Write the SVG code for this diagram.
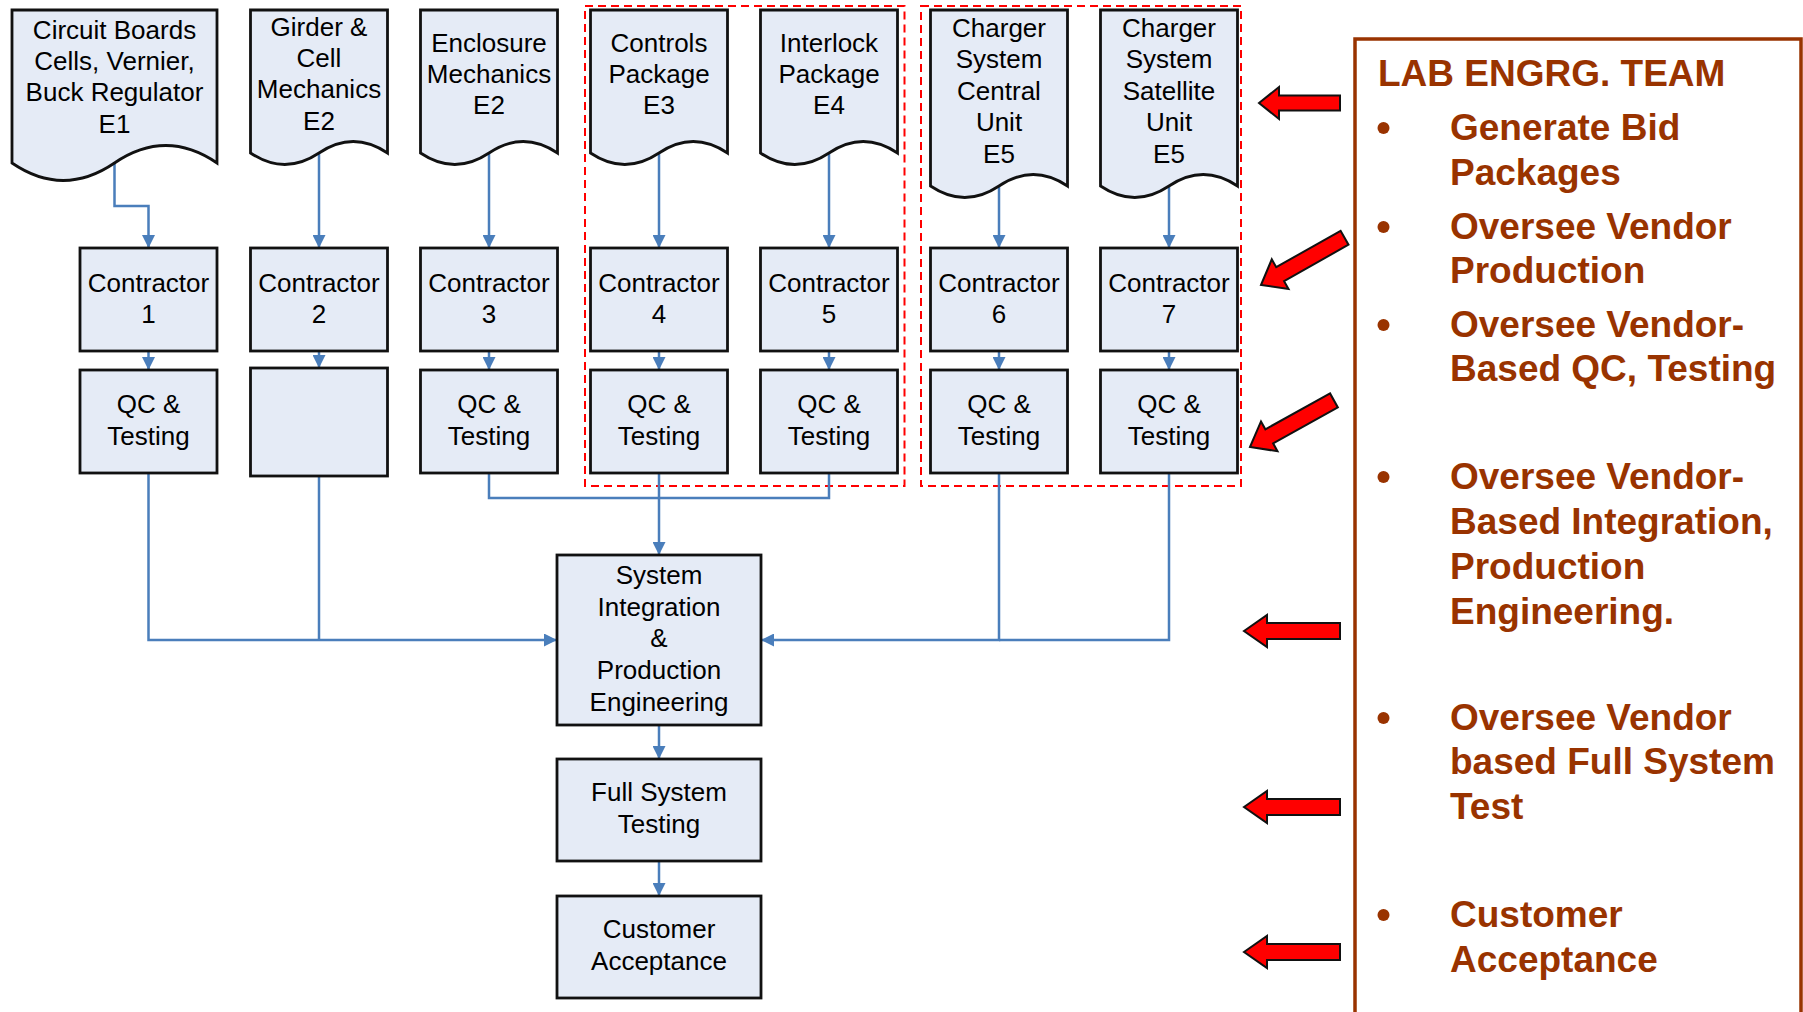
<svg xmlns="http://www.w3.org/2000/svg" width="1803" height="1012" viewBox="0 0 1803 1012">
<style>
.box{fill:#e5ebf6;stroke:#111;stroke-width:2.8}
.t{font-family:"Liberation Sans",Arial,sans-serif;font-size:26px;fill:#000;text-anchor:middle}
.c{fill:none;stroke:#4a7ebb;stroke-width:2.5}
.grp{fill:none;stroke:#ff0000;stroke-width:2;stroke-dasharray:8 5}
.ra{fill:#ff0000;stroke:#111;stroke-width:2;stroke-linejoin:miter}
.lab{font-family:"Liberation Sans",Arial,sans-serif;font-size:37px;font-weight:bold;fill:#993300}
.dot{fill:#993300}
</style>
<defs>
<marker id="ah" markerUnits="userSpaceOnUse" markerWidth="13" markerHeight="13" refX="13" refY="6.5" orient="auto">
<path d="M0,0 L13,6.5 L0,13 z" fill="#4a7ebb"/>
</marker>
<path id="ra1" d="M0,0 L20,-16 L20,-7.5 L81,-7.5 L81,7.5 L20,7.5 L20,16 Z"/>
<path id="ra2" d="M0,0 L23,-16 L23,-8 L96,-8 L96,8 L23,8 L23,16 Z"/>
<path id="ra3" d="M0,0 L22,-17 L22,-8 L96,-8 L96,8 L22,8 L22,17 Z"/>
</defs>

<!-- group frames -->
<rect class="grp" x="585" y="6" width="319.5" height="480"/>
<rect class="grp" x="921" y="6" width="320" height="480"/>

<!-- connectors -->
<g id="connectors">
<path class="c" d="M114.5,163 V206 H148.5 V248" marker-end="url(#ah)"/>
<path class="c" d="M319,153 V248" marker-end="url(#ah)"/>
<path class="c" d="M489,153 V248" marker-end="url(#ah)"/>
<path class="c" d="M659,153 V248" marker-end="url(#ah)"/>
<path class="c" d="M829,153 V248" marker-end="url(#ah)"/>
<path class="c" d="M999,186 V248" marker-end="url(#ah)"/>
<path class="c" d="M1169,186 V248" marker-end="url(#ah)"/>
<path class="c" d="M148.5,351 V370" marker-end="url(#ah)"/>
<path class="c" d="M319,351 V368" marker-end="url(#ah)"/>
<path class="c" d="M489,351 V370" marker-end="url(#ah)"/>
<path class="c" d="M659,351 V370" marker-end="url(#ah)"/>
<path class="c" d="M829,351 V370" marker-end="url(#ah)"/>
<path class="c" d="M999,351 V370" marker-end="url(#ah)"/>
<path class="c" d="M1169,351 V370" marker-end="url(#ah)"/>
<path class="c" d="M148.5,473 V640 H557" marker-end="url(#ah)"/>
<path class="c" d="M319,476 V640"/>
<path class="c" d="M489,473 V498 H829 V473"/>
<path class="c" d="M659,473 V555" marker-end="url(#ah)"/>
<path class="c" d="M1169,473 V640 H999"/>
<path class="c" d="M999,473 V640 H761" marker-end="url(#ah)"/>
<path class="c" d="M659,725 V759" marker-end="url(#ah)"/>
<path class="c" d="M659,861 V896" marker-end="url(#ah)"/>
</g>

<!-- documents -->
<g id="doc1">
<path class="box" d="M12,10 H217 V163 C182.8,139.7 148.7,139.7 114.5,163 C80.3,186.3 46.2,186.3 12,163 Z"/>
<text class="t" x="114.5" y="39">Circuit Boards</text>
<text class="t" x="114.5" y="70">Cells, Vernier,</text>
<text class="t" x="114.5" y="101">Buck Regulator</text>
<text class="t" x="114.5" y="133">E1</text>
</g>
<g id="doc2">
<path class="box" d="M250.5,10 H387.5 V153 C364.7,137.7 341.8,137.7 319,153 C296.2,168.3 273.3,168.3 250.5,153 Z"/>
<text class="t" x="319" y="36">Girder &amp;</text>
<text class="t" x="319" y="67">Cell</text>
<text class="t" x="319" y="98">Mechanics</text>
<text class="t" x="319" y="130">E2</text>
</g>
<g id="doc3">
<path class="box" d="M420.5,10 H557.5 V153 C534.7,137.7 511.8,137.7 489,153 C466.2,168.3 443.3,168.3 420.5,153 Z"/>
<text class="t" x="489" y="52">Enclosure</text>
<text class="t" x="489" y="83">Mechanics</text>
<text class="t" x="489" y="114">E2</text>
</g>
<g id="doc4">
<path class="box" d="M590.5,10 H727.5 V153 C704.7,137.7 681.8,137.7 659,153 C636.2,168.3 613.3,168.3 590.5,153 Z"/>
<text class="t" x="659" y="52">Controls</text>
<text class="t" x="659" y="83">Package</text>
<text class="t" x="659" y="114">E3</text>
</g>
<g id="doc5">
<path class="box" d="M760.5,10 H897.5 V153 C874.7,137.7 851.8,137.7 829,153 C806.2,168.3 783.3,168.3 760.5,153 Z"/>
<text class="t" x="829" y="52">Interlock</text>
<text class="t" x="829" y="83">Package</text>
<text class="t" x="829" y="114">E4</text>
</g>
<g id="doc6">
<path class="box" d="M930.5,10 H1067.5 V186 C1044.7,170.7 1021.8,170.7 999,186 C976.2,201.3 953.3,201.3 930.5,186 Z"/>
<text class="t" x="999" y="37">Charger</text>
<text class="t" x="999" y="68">System</text>
<text class="t" x="999" y="100">Central</text>
<text class="t" x="999" y="131">Unit</text>
<text class="t" x="999" y="163">E5</text>
</g>
<g id="doc7">
<path class="box" d="M1100.5,10 H1237.5 V186 C1214.7,170.7 1191.8,170.7 1169,186 C1146.2,201.3 1123.3,201.3 1100.5,186 Z"/>
<text class="t" x="1169" y="37">Charger</text>
<text class="t" x="1169" y="68">System</text>
<text class="t" x="1169" y="100">Satellite</text>
<text class="t" x="1169" y="131">Unit</text>
<text class="t" x="1169" y="163">E5</text>
</g>

<!-- contractors -->
<g id="contractor1"><rect class="box" x="80" y="248" width="137" height="103"/><text class="t" x="148.5" y="292">Contractor</text><text class="t" x="148.5" y="323">1</text></g>
<g id="contractor2"><rect class="box" x="250.5" y="248" width="137" height="103"/><text class="t" x="319" y="292">Contractor</text><text class="t" x="319" y="323">2</text></g>
<g id="contractor3"><rect class="box" x="420.5" y="248" width="137" height="103"/><text class="t" x="489" y="292">Contractor</text><text class="t" x="489" y="323">3</text></g>
<g id="contractor4"><rect class="box" x="590.5" y="248" width="137" height="103"/><text class="t" x="659" y="292">Contractor</text><text class="t" x="659" y="323">4</text></g>
<g id="contractor5"><rect class="box" x="760.5" y="248" width="137" height="103"/><text class="t" x="829" y="292">Contractor</text><text class="t" x="829" y="323">5</text></g>
<g id="contractor6"><rect class="box" x="930.5" y="248" width="137" height="103"/><text class="t" x="999" y="292">Contractor</text><text class="t" x="999" y="323">6</text></g>
<g id="contractor7"><rect class="box" x="1100.5" y="248" width="137" height="103"/><text class="t" x="1169" y="292">Contractor</text><text class="t" x="1169" y="323">7</text></g>

<!-- QC -->
<g id="qc1"><rect class="box" x="80" y="370" width="137" height="103"/><text class="t" x="148.5" y="413">QC &amp;</text><text class="t" x="148.5" y="445">Testing</text></g>
<g id="qc2"><rect class="box" x="250.5" y="368" width="137" height="108"/></g>
<g id="qc3"><rect class="box" x="420.5" y="370" width="137" height="103"/><text class="t" x="489" y="413">QC &amp;</text><text class="t" x="489" y="445">Testing</text></g>
<g id="qc4"><rect class="box" x="590.5" y="370" width="137" height="103"/><text class="t" x="659" y="413">QC &amp;</text><text class="t" x="659" y="445">Testing</text></g>
<g id="qc5"><rect class="box" x="760.5" y="370" width="137" height="103"/><text class="t" x="829" y="413">QC &amp;</text><text class="t" x="829" y="445">Testing</text></g>
<g id="qc6"><rect class="box" x="930.5" y="370" width="137" height="103"/><text class="t" x="999" y="413">QC &amp;</text><text class="t" x="999" y="445">Testing</text></g>
<g id="qc7"><rect class="box" x="1100.5" y="370" width="137" height="103"/><text class="t" x="1169" y="413">QC &amp;</text><text class="t" x="1169" y="445">Testing</text></g>

<!-- lower chain -->
<g id="sysint"><rect class="box" x="557" y="555" width="204" height="170"/>
<text class="t" x="659" y="584">System</text>
<text class="t" x="659" y="616">Integration</text>
<text class="t" x="659" y="647">&amp;</text>
<text class="t" x="659" y="679">Production</text>
<text class="t" x="659" y="711">Engineering</text></g>
<g id="fulltest"><rect class="box" x="557" y="759" width="204" height="102"/>
<text class="t" x="659" y="801">Full System</text>
<text class="t" x="659" y="833">Testing</text></g>
<g id="customer"><rect class="box" x="557" y="896" width="204" height="102"/>
<text class="t" x="659" y="938">Customer</text>
<text class="t" x="659" y="970">Acceptance</text></g>

<!-- red arrows -->
<g id="red-arrows">
<use href="#ra1" class="ra" transform="translate(1259,103)"/>
<use href="#ra3" class="ra" transform="translate(1261,285) rotate(-29.5)"/>
<use href="#ra3" class="ra" transform="translate(1250,447) rotate(-29)"/>
<use href="#ra2" class="ra" transform="translate(1244,631)"/>
<use href="#ra2" class="ra" transform="translate(1244,807)"/>
<use href="#ra2" class="ra" transform="translate(1244,952)"/>
</g>

<!-- team panel -->
<g id="team">
<rect x="1355" y="39" width="446" height="990" fill="none" stroke="#993300" stroke-width="3.5"/>
<text class="lab" x="1378" y="86">LAB ENGRG. TEAM</text>
<circle class="dot" cx="1383.5" cy="128" r="6"/>
<text class="lab" x="1450" y="140">Generate Bid</text>
<text class="lab" x="1450" y="185">Packages</text>
<circle class="dot" cx="1383.5" cy="227" r="6"/>
<text class="lab" x="1450" y="239">Oversee Vendor</text>
<text class="lab" x="1450" y="283">Production</text>
<circle class="dot" cx="1383.5" cy="325" r="6"/>
<text class="lab" x="1450" y="337">Oversee Vendor-</text>
<text class="lab" x="1450" y="381">Based QC, Testing</text>
<circle class="dot" cx="1383.5" cy="477" r="6"/>
<text class="lab" x="1450" y="489">Oversee Vendor-</text>
<text class="lab" x="1450" y="534">Based Integration,</text>
<text class="lab" x="1450" y="579">Production</text>
<text class="lab" x="1450" y="624">Engineering.</text>
<circle class="dot" cx="1383.5" cy="718" r="6"/>
<text class="lab" x="1450" y="730">Oversee Vendor</text>
<text class="lab" x="1450" y="774">based Full System</text>
<text class="lab" x="1450" y="819">Test</text>
<circle class="dot" cx="1383.5" cy="915" r="6"/>
<text class="lab" x="1450" y="927">Customer</text>
<text class="lab" x="1450" y="972">Acceptance</text>
</g>
</svg>
